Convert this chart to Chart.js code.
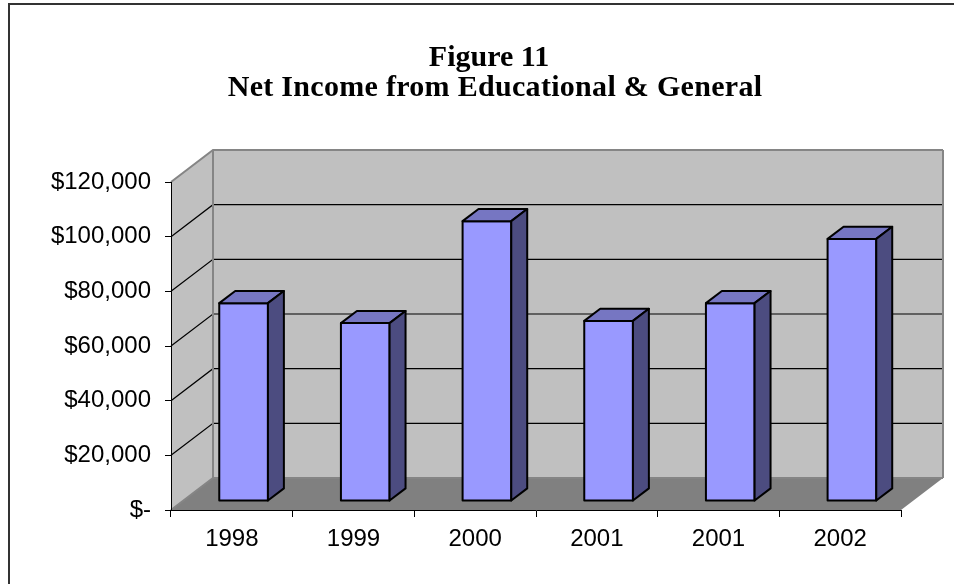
<!DOCTYPE html>
<html>
<head>
<meta charset="utf-8">
<script src="https://cdn.jsdelivr.net/npm/chart.js@4"></script>
<style>
    html, body { margin: 0; padding: 0; background: #fff; }
    canvas { display: block; }
</style>
</head>
<body>
<canvas id="chart" width="954" height="584"></canvas>
<script>
const years = ['1998', '1999', '2000', '2001', '2001', '2002'];
const netIncome = [72400, 65100, 102400, 65900, 72400, 95900];
const yTicks = [0, 20000, 40000, 60000, 80000, 100000, 120000];
const titleLines = ['Figure 11', 'Net Income from Educational & General'];

// 3D look: back wall sits this far behind the front plane
const DEPTH_X = 42, DEPTH_Y = 32;
const BAR_FRONT = 0.28, BAR_DEPTH = 0.38;

function money(v) {
    return v === 0 ? '$-' : '$' + v.toLocaleString('en-US');
}

function poly(ctx, pts) {
    ctx.beginPath();
    ctx.moveTo(pts[0][0], pts[0][1]);
    for (let i = 1; i < pts.length; i++) ctx.lineTo(pts[i][0], pts[i][1]);
    ctx.closePath();
}

const box3d = {
    id: 'box3d',
    beforeDraw(chart) {
        const ctx = chart.ctx, a = chart.chartArea, ys = chart.scales.y;
        ctx.save();
        // outer frame
        ctx.strokeStyle = '#333';
        ctx.lineWidth = 2;
        ctx.strokeRect(9, 4, 1000, 1000);

        // title, centred over the plot box rather than the canvas
        ctx.fillStyle = '#000';
        ctx.font = 'bold 30px "Liberation Serif"';
        ctx.textAlign = 'center';
        ctx.textBaseline = 'middle';
        ctx.fillText(titleLines[0], 489, 58);
        ctx.letterSpacing = '0.3px';
        ctx.fillText(titleLines[1], 495, 88);
        ctx.letterSpacing = '0px';

        // walls + floor
        ctx.fillStyle = '#c0c0c0';
        poly(ctx, [[a.left, a.top], [a.left + DEPTH_X, a.top - DEPTH_Y], [a.left + DEPTH_X, a.bottom - DEPTH_Y], [a.left, a.bottom]]);
        ctx.fill();
        ctx.fillRect(a.left + DEPTH_X, a.top - DEPTH_Y, a.right - a.left, a.bottom - a.top);
        ctx.fillStyle = '#808080';
        poly(ctx, [[a.left, a.bottom], [a.left + DEPTH_X, a.bottom - DEPTH_Y], [a.right + DEPTH_X, a.bottom - DEPTH_Y], [a.right, a.bottom]]);
        ctx.fill();

        // gridlines on side and back wall
        yTicks.forEach(v => {
            const py = ys.getPixelForValue(v);
            const edge = v === ys.min || v === ys.max;
            ctx.strokeStyle = edge ? '#858585' : '#000';
            ctx.lineWidth = edge ? 2 : 1.2;
            ctx.beginPath();
            ctx.moveTo(a.left, py);
            ctx.lineTo(a.left + DEPTH_X, py - DEPTH_Y);
            ctx.lineTo(a.right + DEPTH_X, py - DEPTH_Y);
            ctx.stroke();
        });
        // back wall edges
        ctx.strokeStyle = '#858585';
        ctx.lineWidth = 2;
        ctx.beginPath();
        ctx.moveTo(a.left + DEPTH_X, a.top - DEPTH_Y);
        ctx.lineTo(a.left + DEPTH_X, a.bottom - DEPTH_Y);
        ctx.moveTo(a.right + DEPTH_X, a.top - DEPTH_Y);
        ctx.lineTo(a.right + DEPTH_X, a.bottom - DEPTH_Y);
        ctx.stroke();
        ctx.restore();
    },
    beforeDatasetDraw() {
        return false; // bars are drawn as boxes below
    },
    afterDatasetsDraw(chart) {
        const ctx = chart.ctx;
        const ox = BAR_FRONT * DEPTH_X, oy = BAR_FRONT * DEPTH_Y;
        const dx = BAR_DEPTH * DEPTH_X, dy = BAR_DEPTH * DEPTH_Y;
        ctx.save();
        ctx.strokeStyle = '#000';
        ctx.lineWidth = 2;
        ctx.lineJoin = 'round';
        chart.getDatasetMeta(0).data.forEach(bar => {
            const p = bar.getProps(['x', 'y', 'base', 'width'], true);
            const l = p.x - p.width / 2 + ox, r = p.x + p.width / 2 + ox;
            const t = p.y - oy, b = p.base - oy;
            // front
            ctx.fillStyle = '#9999ff';
            poly(ctx, [[l, t], [r, t], [r, b], [l, b]]);
            ctx.fill(); ctx.stroke();
            // top
            ctx.fillStyle = '#7676c2';
            poly(ctx, [[l, t], [l + dx, t - dy], [r + dx, t - dy], [r, t]]);
            ctx.fill(); ctx.stroke();
            // side
            ctx.fillStyle = '#4c4c80';
            poly(ctx, [[r, t], [r + dx, t - dy], [r + dx, b - dy], [r, b]]);
            ctx.fill(); ctx.stroke();
        });
        ctx.restore();
    }
};

const tickFont = { family: 'Liberation Sans', size: 24 };

new Chart(document.getElementById('chart'), {
    type: 'bar',
    data: {
        labels: years,
        datasets: [{
            label: 'Net Income',
            data: netIncome,
            backgroundColor: '#9999ff',
            barPercentage: 0.4,
            categoryPercentage: 1.0
        }]
    },
    options: {
        responsive: false,
        animation: false,
        layout: { padding: { left: 0, right: 53, top: 182, bottom: 24 } },
        scales: {
            x: {
                grid: { drawOnChartArea: false, drawTicks: true, tickLength: 7, color: '#000', offset: true },
                border: { display: true, color: '#000', width: 1 },
                ticks: { color: '#000', font: tickFont, padding: 8, maxRotation: 0, autoSkip: false },
                afterFit: s => { s.height = 50; }
            },
            y: {
                min: 0,
                max: 120000,
                grid: { drawOnChartArea: false, tickLength: 6, color: '#000' },
                border: { display: true, color: '#000', width: 1 },
                ticks: { stepSize: 20000, callback: money, color: '#000', font: tickFont, padding: 14 },
                afterFit: s => { s.width = 171; }
            }
        },
        plugins: {
            legend: { display: false },
            tooltip: { enabled: false },
            title: { display: false }
        }
    },
    plugins: [box3d]
});
</script>
</body>
</html>
